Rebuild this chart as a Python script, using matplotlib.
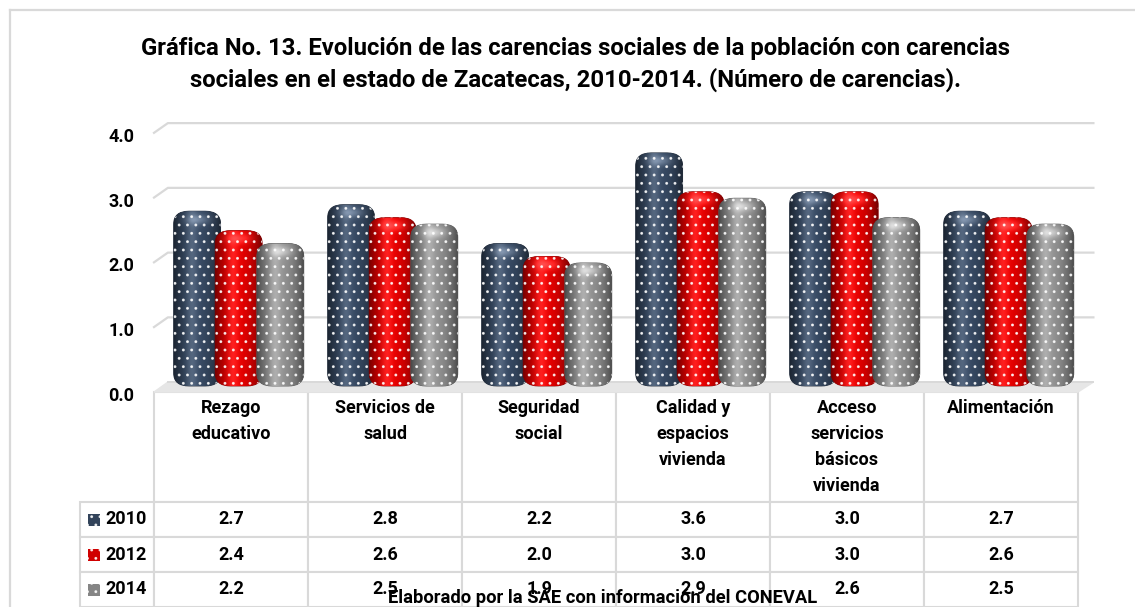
import numpy as np
import matplotlib.pyplot as plt
import matplotlib.transforms as mtransforms
from matplotlib.patches import FancyBboxPatch, Rectangle
from matplotlib.lines import Line2D
from matplotlib.colors import to_rgb

plt.rcParams['font.family'] = ['Roboto', 'DejaVu Sans']
plt.rcParams['hatch.linewidth'] = 0.9

# datos
categorias = ["Rezago\neducativo", "Servicios de\nsalud", "Seguridad\nsocial",
              "Calidad y\nespacios\nvivienda", "Acceso\nservicios\nbásicos\nvivienda",
              "Alimentación"]
anios = ["2010", "2012", "2014"]
v2010 = [2.7, 2.8, 2.2, 3.6, 3.0, 2.7]
v2012 = [2.4, 2.6, 2.0, 3.0, 3.0, 2.6]
v2014 = [2.2, 2.5, 1.9, 2.9, 2.6, 2.5]
marcas_y = [0, 1, 2, 3, 4]

titulo = ("Gráfica No. 13. Evolución de las carencias sociales de la población con carencias\n"
          "sociales en el estado de Zacatecas, 2010-2014. (Número de carencias).")
fuente = "Elaborado por la SAE con información del CONEVAL"

series = [v2010, v2012, v2014]
colores = ['#32435a', '#d00000', '#858585']
gris = '#d9d9d9'

W, H = 1135, 607
fig = plt.figure(figsize=(W / 100, H / 100), dpi=100)


def caja(x0, y0, x1, y1):
    return [x0 / W, 1 - y1 / H, (x1 - x0) / W, (y1 - y0) / H]


ppu = 64.75  # pixeles por unidad
ax = fig.add_axes(caja(154, 118, 1078, 392))
ax.set_xlim(-0.5, 5.5)
ax.set_ylim(-6 / ppu, 268 / ppu)
for s in ax.spines.values():
    s.set_visible(False)
ax.set_xticks([])
ax.set_yticks(marcas_y, [f"{v:.1f}" for v in marcas_y])
ax.tick_params(axis='y', length=0, pad=14, labelsize=13)
for t in ax.get_yticklabels():
    t.set_fontweight('bold')
    t.set_transform(t.get_transform() +
                    mtransforms.ScaledTranslation(0, -0.08, fig.dpi_scale_trans))

# pared del fondo (lineas de division) y piso
for v in marcas_y[1:]:
    ax.plot([-0.5, -0.41, 5.6], [v - 0.09, v + 0.06, v + 0.06], color=gris,
            lw=1.6, clip_on=False, zorder=0.5)
ax.fill([-0.5, -0.41, 5.6, 5.5], [-0.093, 0.06, 0.06, -0.093], color='#e6e6e6',
        clip_on=False, zorder=0.6)
ax.plot([-0.41, 5.6], [0.06, 0.06], color=gris, lw=1.4, clip_on=False, zorder=0.7)

# barras tipo cilindro
x = np.arange(len(categorias))
desp = [-0.22, 0.05, 0.32]
ancho = 0.305
t = np.linspace(0, 1, 80)
perfil = 0.55 + 0.55 * np.sin(np.pi * t) ** 0.8
brillo = 0.12 * np.exp(-((t - 0.38) / 0.12) ** 2)

for i, (vals, col) in enumerate(zip(series, colores)):
    barras = ax.bar(x + desp[i], vals, width=ancho, color=col)
    base = np.array(to_rgb(col))
    z = 2 + i
    for b in barras:
        b.set_visible(False)
        x0, y0, w, h = b.get_x(), b.get_y(), b.get_width(), b.get_height()
        # sombreado: gradiente lateral + brillo en la tapa superior
        ny = max(int(h * ppu), 2)
        dy = np.arange(ny)[:, None]
        tapa = 0.22 * np.exp(-((dy - 8) / 5.0) ** 2) * np.exp(-((t[None, :] - 0.5) / 0.25) ** 2)
        luz = brillo[None, :] + tapa
        img = np.clip(base[None, None, :] * perfil[None, :, None] + luz[:, :, None], 0, 1)
        forma = dict(boxstyle='round,pad=0,rounding_size=0.1', mutation_aspect=2.0)
        cuerpo = FancyBboxPatch((x0, y0), w, h, facecolor=col,
                                edgecolor=base * 0.6, lw=0.6, zorder=z, **forma)
        ax.add_patch(cuerpo)
        im = ax.imshow(img, extent=(x0, x0 + w, y0, y0 + h), aspect='auto',
                       interpolation='bilinear', zorder=z + 0.1)
        im.set_clip_path(cuerpo)
        puntos = FancyBboxPatch((x0, y0), w, h, facecolor='none',
                                edgecolor=(1, 1, 1, 0.8), lw=0, hatch='..',
                                zorder=z + 0.2, **forma)
        ax.add_patch(puntos)

ax.set_xlim(-0.5, 5.5)
ax.set_ylim(-6 / ppu, 268 / ppu)

# tabla de datos (primera columna = leyenda)
encabezados = [""] + [c + "\n" * (3 - c.count("\n")) for c in categorias]
celdas = [[a] + [f"{v:.1f}" for v in vals] for a, vals in zip(anios, series)]
tabla = ax.table(cellText=celdas, colLabels=encabezados,
                 colWidths=[74 / 924] + [154 / 924] * len(categorias),
                 cellLoc='center', colLoc='center',
                 bbox=[(80 - 154) / 924, -215 / 274, 998 / 924, 215 / 274])
tabla.auto_set_font_size(False)
tabla.set_fontsize(13)
for (r, c), celda in tabla.get_celld().items():
    celda.set_edgecolor(gris)
    celda.set_linewidth(1.5)
    celda.get_text().set_fontweight('bold')
    celda.set_height(110 if r == 0 else 35)
    if r == 0:
        celda.get_text().set_linespacing(1.56)
    if c == 0:
        celda.get_text().set_horizontalalignment('right')
tabla[0, 0].set_visible(False)

# marcadores de leyenda en la tabla
for i, col in enumerate(colores):
    yc = 519.5 + 35 * i
    fig.add_artist(Rectangle((88 / W, 1 - (yc + 6) / H), 12 / W, 12 / H,
                             transform=fig.transFigure, facecolor=col,
                             edgecolor=(1, 1, 1, 0.8), lw=0, hatch='..', zorder=5))

# marco exterior
fig.add_artist(Line2D([10 / W, 10 / W], [0, 1 - 10 / H], color=gris, lw=1.6))
fig.add_artist(Line2D([10 / W, 1], [1 - 10 / H, 1 - 10 / H], color=gris, lw=1.6))

fig.text(575 / W, 1 - 64.5 / H, titulo, ha='center', va='center', fontsize=17.2,
         fontweight='bold', linespacing=1.45)
fig.text(603 / W, 1 - 598 / H, fuente, ha='center', va='center', fontsize=13.2,
         fontweight='bold', zorder=10)

fig.savefig('out.png', dpi=100)
